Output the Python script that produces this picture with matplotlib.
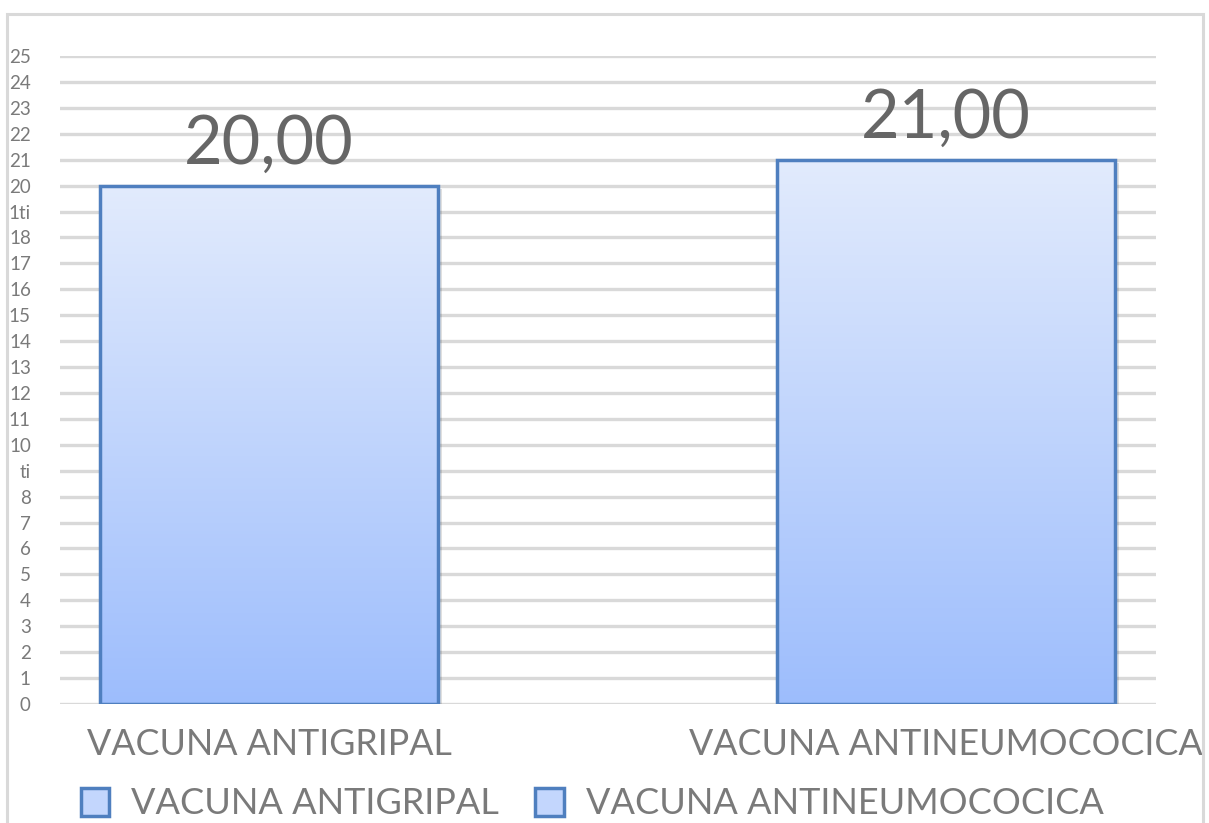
import matplotlib
matplotlib.use("Agg")
import matplotlib.pyplot as plt
import numpy as np
from matplotlib.patches import Rectangle
from matplotlib.colors import LinearSegmentedColormap

categories = ["VACUNA ANTIGRIPAL", "VACUNA ANTINEUMOCOCICA"]
values = [20, 21]
value_labels = ["20,00", "21,00"]
ytick_values = list(range(0, 26))
ytick_labels = ["0", "1", "2", "3", "4", "5", "6", "7", "8", "ti", "10", "11", "12",
                "13", "14", "15", "16", "17", "18", "1ti", "20", "21", "22", "23", "24", "25"]

plt.rcParams['font.family'] = ['Lato', 'DejaVu Sans']
text_color = "#7a7a7a"
edge_color = "#4f7fbf"
cmap = LinearSegmentedColormap.from_list("g", ["#9dbdfc", "#e2ebfd"])

fig = plt.figure(figsize=(12.09, 8.23), dpi=100)
# outer border
fig.patches.append(Rectangle((7/1209, -0.05), (1203-7)/1209, 1.05 - 14/823,
                             transform=fig.transFigure, fill=False,
                             edgecolor="#d9d9d9", linewidth=2.2, zorder=0))

ax = fig.add_axes([60/1209, 1-704/823, (1156-60)/1209, (704-56)/823])
x = np.arange(len(categories))
width = 0.5
ax.set_xlim(-0.3087, 1.310)
ax.set_ylim(0, 25)

for yv in ytick_values:
    ax.axhline(yv, color="#d9d9d9", linewidth=2.4, zorder=1)

bars = ax.bar(x, values, width=width, facecolor="none", edgecolor=edge_color,
              linewidth=2.5, zorder=4)
grad = np.linspace(0, 1, 256).reshape(-1, 1)
for b in bars:
    x0, y0 = b.get_x(), b.get_y()
    w, h = b.get_width(), b.get_height()
    sh = Rectangle((x0 + 0.006, y0 - 0.12), w, h, facecolor="#000000", alpha=0.12,
                   edgecolor="none", zorder=2)
    ax.add_patch(sh)
    im = ax.imshow(grad, extent=[x0, x0 + w, y0, y0 + h], origin="lower",
                   cmap=cmap, aspect="auto", zorder=3)
    clip = Rectangle((x0, y0), w, h, transform=ax.transData)
    im.set_clip_path(clip)

for xi, v, lab in zip(x, values, value_labels):
    ax.annotate(lab, (xi, v), xytext=(0, 7), textcoords="offset points",
                ha="center", va="bottom", fontsize=48, color="#666666")

ax.set_yticks(ytick_values)
ax.set_yticklabels(ytick_labels)
ax.set_xticks(x)
ax.set_xticklabels(categories)
ax.tick_params(axis="y", length=0, pad=21, labelsize=13.5, labelcolor=text_color)
ax.tick_params(axis="x", length=0, pad=17, labelsize=25.8, labelcolor=text_color)
for s in ax.spines.values():
    s.set_visible(False)

handles = [Rectangle((0, 0), 1, 1, facecolor="#c3d6fd", edgecolor=edge_color, linewidth=2.5)
           for _ in categories]
leg = fig.legend(handles, categories, loc="center", bbox_to_anchor=(592/1209, 1-804/823),
                 ncol=2, frameon=False, fontsize=26, handlelength=0.8, handleheight=0.8,
                 handletextpad=0.6, columnspacing=1.0, borderaxespad=0)
for t in leg.get_texts():
    t.set_color(text_color)

fig.savefig("out.png", dpi=100)
